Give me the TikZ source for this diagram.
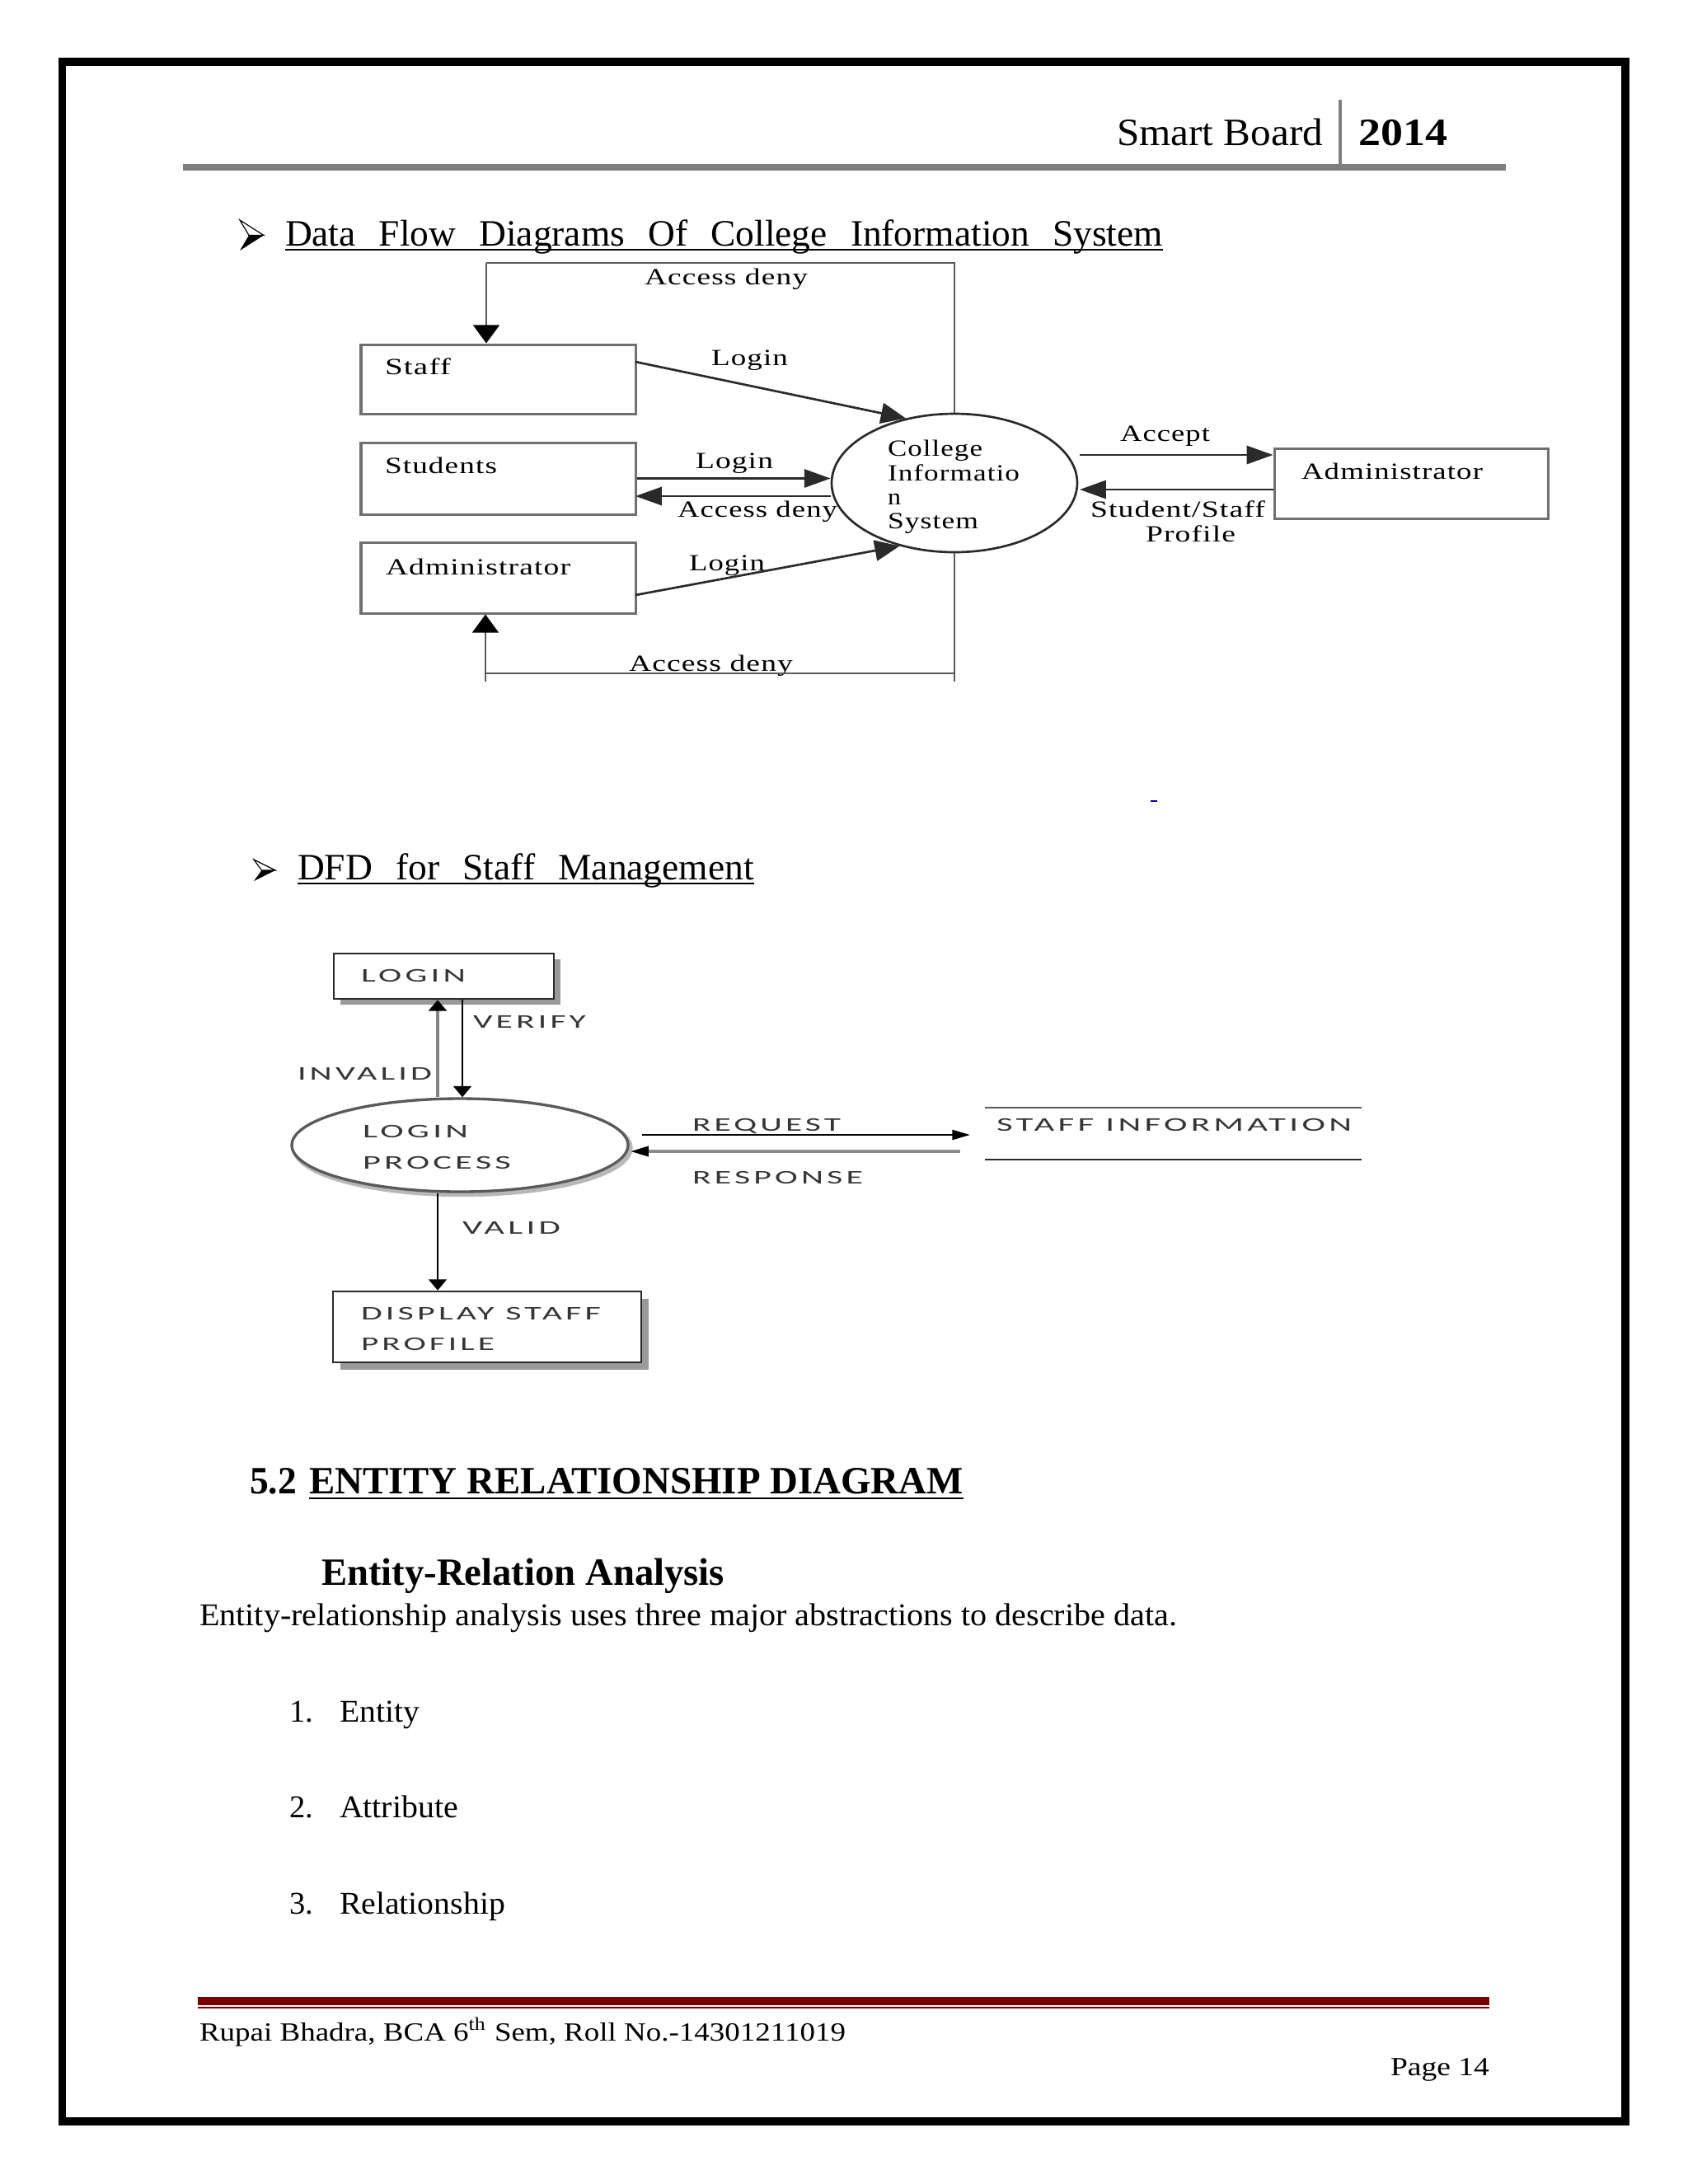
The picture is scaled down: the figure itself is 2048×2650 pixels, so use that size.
\documentclass[tikz,border=0pt]{standalone}
\usepackage{fontspec}
\usepackage{graphicx}
\setmainfont{Liberation Serif}
\newfontfamily\dfdA[LetterSpace=3]{Liberation Serif}
\newfontfamily\dfdB[LetterSpace=10]{Carlito}
\usetikzlibrary{arrows.meta,shapes.geometric,calc}
\newdimen\pxu \pxu=0.29883pt
\newcommand\fitw[2]{\resizebox{#1\pxu}{\height}{#2}}
\newcommand\ws{\hspace{0.62em}}
\definecolor{hdrgray}{HTML}{7F7F7F}
\definecolor{footred}{HTML}{7B0000}
\definecolor{boxgray}{HTML}{707070}
\definecolor{linegray}{HTML}{5A5A5A}
\definecolor{darkline}{HTML}{2A2A2A}
\definecolor{dtext}{HTML}{363636}
\definecolor{shadowgray}{HTML}{9A9A9A}
\tikzset{
  lbl/.style={anchor=base west,inner sep=0pt,outer sep=0pt},
  hdr/.style={lbl,font=\fontsize{14}{16}\selectfont},
  ttl/.style={lbl,font=\fontsize{13.5}{16}\selectfont},
  d1txt/.style={lbl,font=\dfdA\fontsize{8.4}{10}\selectfont},
  d2txt/.style={lbl,text=dtext,font=\dfdB\fontsize{7}{9}\selectfont},
  d1box/.style={draw=boxgray,line width=0.9pt,rectangle,inner sep=0pt,fill=white},
  d2box/.style={draw=darkline,line width=0.75pt,rectangle,inner sep=0pt,fill=white},
  d1flow/.style={draw=darkline,line width=0.8pt},
  d1loop/.style={draw=linegray,line width=0.7pt},
  htip/.style={-{Triangle[length=9.5pt,width=6.6pt]}},
  dtip/.style={-{Triangle[length=9pt,width=7.5pt]}},
  vtipk/.style={-{Triangle[length=6.6pt,width=9.5pt,color=black]}},
  shtip/.style={-{Triangle[length=6.5pt,width=3.6pt,color=black]}},
  svtip/.style={-{Triangle[length=4pt,width=6.5pt,color=black]}}
}
\begin{document}
\begin{tikzpicture}[x=0.29883pt,y=-0.29883pt]
\useasboundingbox (0,0) rectangle (2048,2650);
\fill[white] (0,0) rectangle (2048,2650);
% page frame
\draw[line width=2.84pt] (75.5,75) rectangle (1972,2574);

% header
\draw[hdrgray,line width=2.4pt] (222,203) -- (1827,203);
\draw[hdrgray,line width=1.2pt] (1626,121) -- (1626,203);
\node[hdr] (hsb) at (1355,176) {\fitw{250}{Smart Board}};
\node[hdr,font=\fontsize{14}{16}\selectfont\bfseries] (hyr) at (1648,176) {\fitw{108}{2014}};

% title 1
\fill (291,304) -- (320,285.5) -- (302,285.5) -- cycle;
\draw[line width=0.35pt,fill=white] (291,267) -- (320,285.5) -- (302,285.5) -- cycle;
\node[ttl] (t1) at (346,298) {\fitw{1065}{Data\ws Flow\ws Diagrams\ws Of\ws College\ws Information\ws System}};
\draw[line width=0.6pt] (346,303) -- (1411,303);

% diagram 1
\node[d1box,minimum width=99.51pt,minimum height=25.10pt] (staff) at (604.5,460) {};
\node[d1box,minimum width=99.51pt,minimum height=26.00pt] (stud) at (604.5,580.5) {};
\node[d1box,minimum width=99.51pt,minimum height=25.70pt] (adm) at (604.5,701) {};
\node[d1box,minimum width=99.21pt,minimum height=25.40pt] (admr) at (1712,586.5) {};
\node[draw=darkline,line width=0.8pt,ellipse,minimum width=89.05pt,minimum height=50.2pt,inner sep=0pt] (cis) at (1158,586) {};

\node[d1txt] (lstaff) at (467,454) {\fitw{80}{Staff}};
\node[d1txt] (lstud) at (467,574) {\fitw{136}{Students}};
\node[d1txt] (ladm) at (468,697) {\fitw{224}{Administrator}};
\node[d1txt] (ladmr) at (1579,581) {\fitw{220}{Administrator}};
\node[d1txt] (c1) at (1077,553) {\fitw{115}{College}};
\node[d1txt] (c2) at (1077,583) {\fitw{160}{Informatio}};
\node[d1txt] (c3) at (1077,612) {\fitw{16}{n}};
\node[d1txt] (c4) at (1077,641) {\fitw{110}{System}};
\node[d1txt] (ad1) at (782,345) {\fitw{198}{Access deny}};
\node[d1txt] (lg1) at (863,443) {\fitw{93}{Login}};
\node[d1txt] (lg2) at (844,568) {\fitw{94}{Login}};
\node[d1txt] (ad2) at (822,627) {\fitw{194}{Access deny}};
\node[d1txt] (lg3) at (836,692) {\fitw{92}{Login}};
\node[d1txt] (ad3) at (763,814) {\fitw{199}{Access deny}};
\node[d1txt] (acc) at (1359,535) {\fitw{109}{Accept}};
\node[d1txt] (ssp) at (1323,627) {\fitw{212}{Student/Staff}};
\node[d1txt] (prf) at (1390,657) {\fitw{109}{Profile}};

\coordinate (tl) at (590,319);
\coordinate (tr) at (1158,319);
\draw[d1loop] (cis.north) -- (tr) -- (tl);
\draw[d1loop,vtipk] (tl) -- (tl |- staff.north);
\coordinate (sl) at (771,439);
\draw[d1flow,dtip] (sl) -- (cis.127);
\draw[d1flow,htip] (stud.east) -- (stud.east -| cis.west);
\coordinate (ad) at (771,602);
\draw[d1flow,htip] (ad -| cis.west) -- (ad);
\coordinate (al) at (771,722);
\draw[d1flow,dtip] (al) -- (cis.229);
\coordinate (acs) at (1310,552);
\draw[d1flow,htip] (acs) -- (acs -| admr.west);
\coordinate (prs) at (1310,594);
\draw[d1flow,htip] (prs -| admr.west) -- (prs);
\coordinate (bl) at (589,817);
\coordinate (br) at (1158,817);
\coordinate (bl2) at (589,827);
\coordinate (br2) at (1158,827);
\draw[d1loop] (cis.south) -- (br2);
\draw[d1loop] (br) -- (bl);
\draw[d1loop,vtipk] (bl2) -- (bl2 |- adm.south);

\draw[blue!70!black,line width=0.6pt] (1396,972) -- (1404,972);

% title 2
\fill (308,1069) -- (334,1056) -- (317.5,1056) -- cycle;
\draw[line width=0.35pt,fill=white] (308,1043) -- (334,1056) -- (317.5,1056) -- cycle;
\node[ttl] (t2) at (361,1067) {\fitw{554}{DFD\ws for\ws Staff\ws Management}};
\draw[line width=0.6pt] (361,1072) -- (915,1072);

% diagram 2
\fill[shadowgray] (413,1164) rectangle (680,1219);
\node[d2box,minimum width=79.79pt,minimum height=16.44pt] (login) at (538.5,1184.5) {};
\node[d2txt] (llogin) at (438,1191) {\fitw{127}{LOGIN}};

\node[draw=shadowgray!70,line width=1.6pt,ellipse,minimum width=121.92pt,minimum height=33.77pt,inner sep=0pt] (lpsh) at (561,1393) {};
\node[draw=linegray,line width=1pt,ellipse,fill=white,minimum width=121.92pt,minimum height=33.77pt,inner sep=0pt] (lp) at (558,1389.5) {};
\node[d2txt] (lp1) at (440,1380) {\fitw{128}{LOGIN}};
\node[d2txt] (lp2) at (440,1418) {\fitw{180}{PROCESS}};

\coordinate (vx) at (561,0);
\coordinate (ix) at (531,0);
\draw[black,line width=0.6pt,svtip] (vx |- login.south) -- (vx |- lp.north);
\draw[shadowgray!85!black,line width=1.3pt,svtip] (ix |- lp.north) -- (ix |- login.south);
\node[d2txt] (lver) at (574,1247) {\fitw{137}{VERIFY}};
\node[d2txt] (linv) at (361,1310) {\fitw{163}{INVALID}};

\fill[shadowgray] (413,1576) rectangle (787,1662);
\node[d2box,minimum width=111.76pt,minimum height=25.70pt] (disp) at (591,1610) {};
\node[d2txt] (ld1) at (438,1601) {\fitw{291}{DISPLAY STAFF}};
\node[d2txt] (ld2) at (438,1638) {\fitw{162}{PROFILE}};
\draw[black,line width=0.7pt,svtip] (ix |- lp.south) -- (ix |- disp.north);
\node[d2txt] (lval) at (561,1497) {\fitw{119}{VALID}};

\coordinate (rq1) at (779,1377);
\coordinate (rq2) at (1177,1377);
\draw[black,line width=0.7pt,shtip] (rq1) -- (rq2);
\coordinate (rs1) at (1165,1397);
\coordinate (rs2) at (765,1397);
\draw[shadowgray!90!black,line width=1pt,shtip] (rs1) -- (rs2);
\node[d2txt] (lreq) at (840,1372) {\fitw{180}{REQUEST}};
\node[d2txt] (lres) at (840,1436) {\fitw{207}{RESPONSE}};

\coordinate (s1) at (1195,1344);
\coordinate (s2) at (1652,1344);
\coordinate (s3) at (1195,1407);
\coordinate (s4) at (1652,1407);
\draw[linegray,line width=0.8pt] (s1) -- (s2);
\draw[darkline,line width=0.7pt] (s3) -- (s4);
\node[d2txt] (lsi) at (1209,1372) {\fitw{431}{STAFF INFORMATION}};

% section
\node[lbl,font=\fontsize{14}{16}\selectfont\bfseries] (s52) at (303,1812) {\fitw{57}{5.2}};
\node[lbl,font=\fontsize{14}{16}\selectfont\bfseries] (serd) at (375,1812) {\fitw{794}{ENTITY RELATIONSHIP DIAGRAM}};
\draw[line width=0.75pt] (375,1818) -- (1169,1818);
\node[lbl,font=\fontsize{14}{16}\selectfont\bfseries] (sera) at (390,1923) {\fitw{489}{Entity-Relation Analysis}};
\node[lbl,font=\fontsize{11.5}{14}\selectfont] (ssent) at (242,1972) {\fitw{1186}{Entity-relationship analysis uses three major abstractions to describe data.}};
\node[lbl,font=\fontsize{11.5}{14}\selectfont] (n1) at (351,2089) {1.};
\node[lbl,font=\fontsize{11.5}{14}\selectfont] (i1) at (412,2089) {\fitw{97}{Entity}};
\node[lbl,font=\fontsize{11.5}{14}\selectfont] (n2) at (351,2205) {2.};
\node[lbl,font=\fontsize{11.5}{14}\selectfont] (i2) at (412,2205) {\fitw{144}{Attribute}};
\node[lbl,font=\fontsize{11.5}{14}\selectfont] (n3) at (351,2322) {3.};
\node[lbl,font=\fontsize{11.5}{14}\selectfont] (i3) at (412,2322) {\fitw{201}{Relationship}};

% footer
\fill[footred] (240,2422.5) rectangle (1807,2432.5);
\fill[footred] (240,2434.5) rectangle (1807,2437);
\node[lbl,font=\fontsize{9.5}{11}\selectfont] (fl) at (242,2476) {\fitw{784}{Rupai Bhadra, BCA 6\textsuperscript{th} Sem, Roll No.-14301211019}};
\node[lbl,font=\fontsize{9.5}{11}\selectfont] (fp) at (1687,2518) {\fitw{120}{Page 14}};
\end{tikzpicture}
\end{document}
